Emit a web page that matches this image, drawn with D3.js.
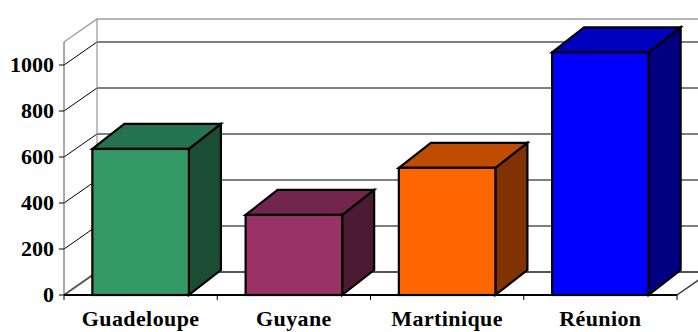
<!DOCTYPE html>
<html>
<head>
<meta charset="utf-8">
<script src="https://cdn.jsdelivr.net/npm/d3@7"></script>
<style>
  html, body { margin: 0; padding: 0; background: #fff; }
  svg { display: block; }
</style>
</head>
<body>
<svg id="chart" width="698" height="332"></svg>
<script>
// Data
const categories = ["Guadeloupe", "Guyane", "Martinique", "Réunion"];
const values = [635, 348, 553, 1055];
const tickValues = [0, 200, 400, 600, 800, 1000];
const frontColors = ["#339966", "#993366", "#FF6600", "#0000FF"];
const topColors = ["#267350", "#73264D", "#BF4C00", "#0000BF"];
const sideColors = ["#1A4D33", "#4D1A33", "#803300", "#000080"];

const FONT = "'Liberation Serif', 'Times New Roman', Times, serif";
const W = 698, H = 332;
const svg = d3.select("#chart");

// Oblique depth of the chart box and of each bar
const wallDx = 33, wallDy = -23;
const barDx = 32, barDy = -25;

const x0 = 64, x1 = 677;
const y = d3.scaleLinear().domain([0, 1100]).range([295, 42]);
const x = d3.scaleBand().domain(categories).range([x0, x1])
  .paddingInner(0.37).paddingOuter(0.185);

const yBase = y(0), yTop = y(1100);
const line = d3.line();

// Back wall
svg.append("polygon")
  .attr("points", [[x0 + wallDx, yTop + wallDy], [W + 20, yTop + wallDy], [W + 20, yBase + wallDy], [x0 + wallDx, yBase + wallDy]].join(" "))
  .attr("fill", "#fff");

// Horizontal gridlines on the back wall and diagonals on the side wall
tickValues.slice(1).forEach(v => {
  const yy = y(v);
  svg.append("path")
    .attr("d", line([[x0, yy], [x0 + wallDx, yy + wallDy], [W + 20, yy + wallDy]]))
    .attr("fill", "none").attr("stroke", "#000").attr("stroke-width", 1);
});

// Top edges of the walls
svg.append("path")
  .attr("d", line([[x0, yTop], [x0 + wallDx, yTop + wallDy], [W + 20, yTop + wallDy]]))
  .attr("fill", "none").attr("stroke", "#a0a0a0").attr("stroke-width", 1.5);

// Back vertical edge of the side wall
svg.append("path")
  .attr("d", line([[x0 + wallDx, yTop + wallDy], [x0 + wallDx, yBase + wallDy]]))
  .attr("fill", "none").attr("stroke", "#808080").attr("stroke-width", 1);

// Floor
svg.append("polygon")
  .attr("points", [[x0, yBase], [x1, yBase], [x1 + wallDx, yBase + wallDy], [x0 + wallDx, yBase + wallDy]].join(" "))
  .attr("fill", "#fff");
svg.append("path")
  .attr("d", line([[x0, yBase], [x0 + wallDx, yBase + wallDy], [W + 20, yBase + wallDy]]))
  .attr("fill", "none").attr("stroke", "#555").attr("stroke-width", 2);
svg.append("path")
  .attr("d", line([[x1, yBase], [x1 + wallDx, yBase + wallDy]]))
  .attr("fill", "none").attr("stroke", "#333").attr("stroke-width", 1.5);

// Front vertical axis line
svg.append("path")
  .attr("d", line([[x0, yTop], [x0, yBase]]))
  .attr("fill", "none").attr("stroke", "#555").attr("stroke-width", 1);

// Front edge of the floor
svg.append("path")
  .attr("d", line([[x0, yBase], [x1, yBase]]))
  .attr("fill", "none").attr("stroke", "#000").attr("stroke-width", 2);

// Category ticks at band boundaries
const step = x.step();
d3.range(categories.length + 1).forEach(i => {
  const xx = x0 + i * step;
  svg.append("path")
    .attr("d", line([[xx, yBase], [xx, yBase + 5]]))
    .attr("stroke", "#000").attr("stroke-width", 1);
});

// Bars
const bars = svg.append("g").attr("stroke", "#000").attr("stroke-width", 2.2)
  .attr("stroke-linejoin", "miter");
categories.forEach((c, i) => {
  const bx0 = x(c), bx1 = x(c) + x.bandwidth();
  const yt = y(values[i]), yb = y(0);
  bars.append("polygon")
    .attr("points", [[bx1, yb], [bx1 + barDx, yb + barDy], [bx1 + barDx, yt + barDy], [bx1, yt]].join(" "))
    .attr("fill", sideColors[i]);
  bars.append("polygon")
    .attr("points", [[bx0, yt], [bx0 + barDx, yt + barDy], [bx1 + barDx, yt + barDy], [bx1, yt]].join(" "))
    .attr("fill", topColors[i]);
  bars.append("rect")
    .attr("x", bx0).attr("y", yt)
    .attr("width", bx1 - bx0).attr("height", yb - yt)
    .attr("fill", frontColors[i]);
});

// Value axis ticks and labels
const yAxis = svg.append("g");
tickValues.forEach(v => {
  const yy = y(v);
  yAxis.append("path")
    .attr("d", line([[x0 - 5, yy], [x0, yy]]))
    .attr("stroke", "#000").attr("stroke-width", 1);
  yAxis.append("text")
    .attr("x", x0 - 10).attr("y", yy)
    .attr("dy", "0.34em")
    .attr("text-anchor", "end")
    .attr("font-family", FONT)
    .attr("font-weight", "bold")
    .attr("font-size", 22)
    .text(v);
});

// Category labels
svg.append("g").selectAll("text")
  .data(categories)
  .join("text")
  .attr("x", d => x(d) + x.bandwidth() / 2)
  .attr("y", 326)
  .attr("text-anchor", "middle")
  .attr("font-family", FONT)
  .attr("font-weight", "bold")
  .attr("font-size", 22)
  .attr("letter-spacing", 0.4)
  .text(d => d);
</script>
</body>
</html>
